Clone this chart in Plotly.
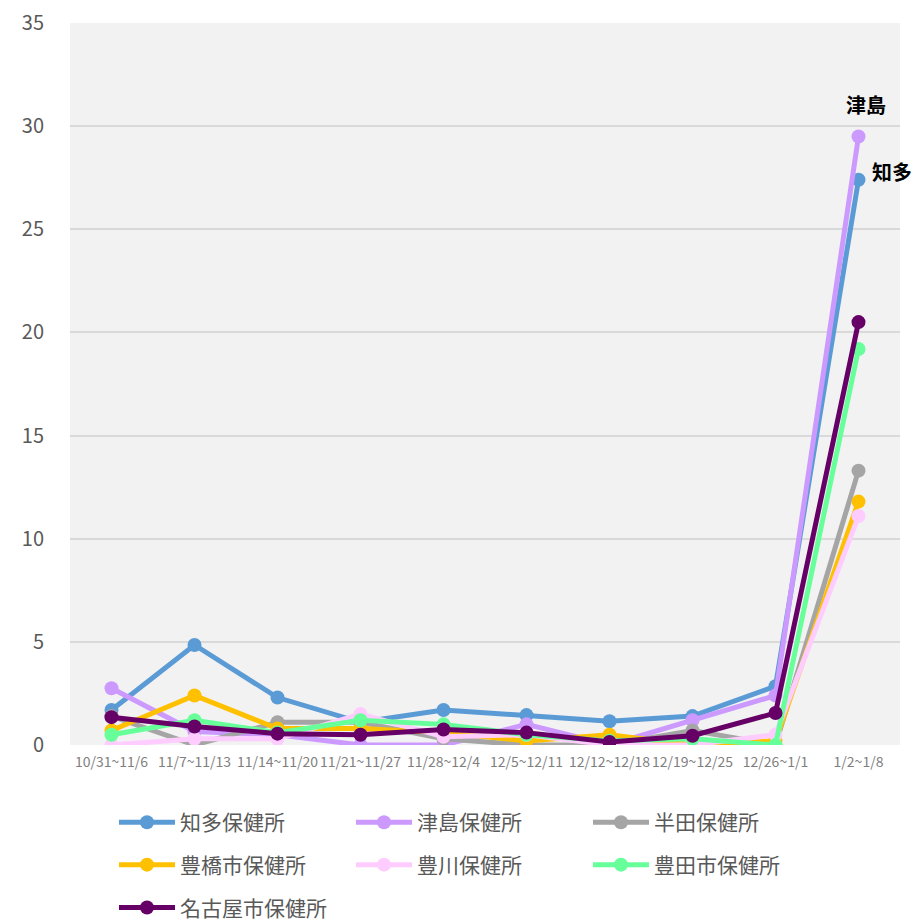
import plotly.graph_objects as go

SEMANAS = ["10/31~11/6", "11/7~11/13", "11/14~11/20", "11/21~11/27", "11/28~12/4",
           "12/5~12/11", "12/12~12/18", "12/19~12/25", "12/26~1/1", "1/2~1/8"]

chita = [1.7, 4.85, 2.3, 1.1, 1.7, 1.45, 1.15, 1.4, 2.85, 27.4]
tsushima = [2.75, 0.65, 0.5, 0.0, 0.0, 1.0, 0.0, 1.2, 2.4, 29.5]
handa = [1.4, 0.0, 1.1, 1.1, 0.3, 0.0, 0.0, 0.7, 0.0, 13.3]
toyohashi = [0.7, 2.4, 0.8, 0.8, 0.6, 0.2, 0.5, 0.0, 0.2, 11.8]
toyokawa = [0.0, 0.3, 0.3, 1.5, 0.4, 0.5, 0.0, 0.0, 0.5, 11.1]
toyota = [0.5, 1.2, 0.6, 1.2, 1.0, 0.5, 0.2, 0.3, 0.0, 19.2]
nagoya = [1.35, 0.9, 0.55, 0.5, 0.75, 0.6, 0.15, 0.45, 1.55, 20.5]

Y_TICKS = [0, 5, 10, 15, 20, 25, 30, 35]

# (nome, valores, cor, legenda) — a legenda é dividida em 3 linhas
SERIES = [
    ("知多保健所", chita, "#5b9bd5", "legend"),
    ("津島保健所", tsushima, "#cc99ff", "legend"),
    ("半田保健所", handa, "#a5a5a5", "legend"),
    ("豊橋市保健所", toyohashi, "#ffc000", "legend2"),
    ("豊川保健所", toyokawa, "#ffccff", "legend2"),
    ("豊田市保健所", toyota, "#66ff99", "legend2"),
    ("名古屋市保健所", nagoya, "#660066", "legend3"),
]

FONTE = "Noto Sans CJK JP"

fig = go.Figure()
for nome, valores, cor, leg in SERIES:
    fig.add_trace(go.Scatter(
        x=SEMANAS, y=valores, name=nome, mode="lines+markers", legend=leg,
        line=dict(color=cor, width=5), marker=dict(color=cor, size=14),
    ))

fig.add_annotation(x=SEMANAS[-1], y=tsushima[-1], text="<b>津島</b>", showarrow=False,
                   yshift=32, xshift=7, font=dict(size=20, color="#000000", family=FONTE))
fig.add_annotation(x=SEMANAS[-1], y=chita[-1], text="<b>知多</b>", showarrow=False,
                   yshift=8, xshift=33, font=dict(size=20, color="#000000", family=FONTE))

# legendas referenciadas ao container para não empurrarem a margem inferior
leg_base = dict(orientation="h", x=0.053, xanchor="left", yanchor="middle", yref="container",
                entrywidth=166, entrywidthmode="pixels",
                font=dict(size=21, color="#595959"), itemwidth=56, bgcolor="rgba(0,0,0,0)")

# a página tem 8px de margem no body; as margens já descontam esse deslocamento
fig.update_layout(
    width=920, height=922,
    margin=dict(l=62, r=28, t=15, b=185),
    paper_bgcolor="#ffffff", plot_bgcolor="#f2f2f2",
    font=dict(family=FONTE, color="#595959"),
    showlegend=True,
    legend=dict(leg_base, y=0.1165),
    legend2=dict(leg_base, y=0.0705),
    legend3=dict(leg_base, y=0.024),
    xaxis=dict(range=[-0.5, 9.5], showgrid=False, tickfont=dict(size=14, color="#7f7f7f"),
               tickangle=0, ticks="", showline=False, zeroline=False, automargin=False,
               ticklabelstandoff=7),
    yaxis=dict(range=[0, 35], tickvals=Y_TICKS, showgrid=True, gridcolor="#d9d9d9", gridwidth=2,
               zeroline=False, tickfont=dict(size=20, color="#595959"), ticks="",
               ticklabelstandoff=25, automargin=False, ticklabeloverflow="allow"),
)

fig.write_html("out.html")
